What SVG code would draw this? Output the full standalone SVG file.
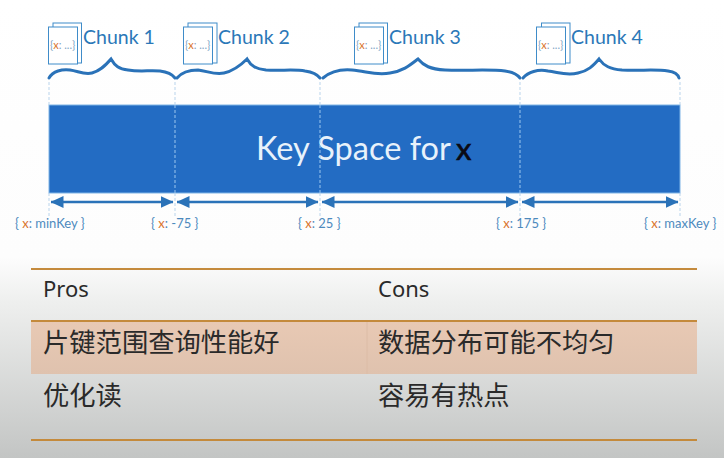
<svg xmlns="http://www.w3.org/2000/svg" width="724" height="458" viewBox="0 0 724 458">
<style>
.doc{fill:#fff;stroke:#3f8cc9;stroke-width:1}
.ch{font:19.500px Lato,"Liberation Sans",sans-serif;fill:#2b78b8}
.q{font:11px Lato,"Liberation Sans",sans-serif;fill:#7fa6c6}
.k{font:13px Lato,"Liberation Sans",sans-serif;fill:#4d8abd}
.o{fill:#d9742c}
.brace{fill:none;stroke:#2a72b8;stroke-width:3;stroke-linecap:round}
.dash{stroke:#b9d4ec;stroke-width:1;stroke-dasharray:3 2;fill:none}
.dashin{stroke:#9cc6ee;stroke-width:1;stroke-dasharray:3 2;fill:none}
.arr{stroke:#2a72b8;stroke-width:2.4;fill:none;marker-start:url(#a);marker-end:url(#a)}
.rule{stroke:#c48a3c;stroke-width:2}
.t{font:22px "Noto Sans","Liberation Sans",sans-serif;fill:#2a2a2a}
.z{font:26.300px "Noto Sans CJK SC","Noto Sans",sans-serif;fill:#2a2a2a}
</style>
<defs>
<linearGradient id="bg" x1="0" y1="0" x2="0" y2="1"><stop offset="0" stop-color="#fff"/><stop offset="0.56" stop-color="#fdfdfd"/><stop offset="0.66" stop-color="#eeefee"/><stop offset="1" stop-color="#c3c5c4"/></linearGradient>
<linearGradient id="band" x1="0" y1="0" x2="0" y2="1"><stop offset="0" stop-color="#e8c9b4"/><stop offset="1" stop-color="#dfc2ae"/></linearGradient>
<marker id="a" viewBox="0 0 13 12" refX="12.500" refY="6" markerWidth="13" markerHeight="12" markerUnits="userSpaceOnUse" orient="auto-start-reverse"><path d="M0 0L13 6L0 12Z" fill="#2a72b8"/></marker>
</defs>
<rect id="background" width="724" height="458" fill="url(#bg)"/>
<g id="keyspace">
<rect x="49" y="105" width="631" height="88" fill="#236cc3" stroke="#7fb4e6" stroke-width="1"/>
<text x="256" y="160" font-family="Lato,'Liberation Sans',sans-serif" font-size="32.500" fill="#e8f2fb">Key Space for</text>
<text x="456" y="160" font-family="Lato,'Liberation Sans',sans-serif" font-size="31" fill="#0a0a14" stroke="#0a0a14" stroke-width="0.6">x</text>
</g>
<g id="connectors">
<path class="dash" d="M49 82V105M175 82V105M320 82V105M520 82V105M680 82V105M49 193V218M175 193V218M320 193V218M520 193V218M680 193V218"/>
<path class="dashin" d="M175 105V193M320 105V193M520 105V193"/>
<path class="arr" d="M51 202H173"/>
<path class="arr" d="M177 202H318"/>
<path class="arr" d="M322 202H518"/>
<path class="arr" d="M522 202H678"/>
<path class="brace" d="M49 78C53 71 62 69 70 70C78 71 84 75 92 73C100 71 105 66 111 59C115 66 119 69 128 70C140 72 150 70 160 71C168 72 172 74 175 78"/>
<path class="brace" d="M177 78C182 72 190 70 198 70C208 71 214 75 224 73C233 71 240 66 247 59C251 66 256 69 266 70C280 71 295 69 305 71C312 72 317 74 320 78"/>
<path class="brace" d="M323 78C330 72 340 69 352 70C366 71 376 76 390 73C403 71 409 66 418 59C424 66 430 69 445 70C465 71 490 69 505 71C513 72 517 74 520 78"/>
<path class="brace" d="M523 78C528 72 538 69 548 71C558 72 566 76 578 73C588 71 593 66 599 59C604 66 610 69 622 70C640 71 655 69 668 71C675 72 678 74 679 78"/>
</g>
<g id="chunk1">
<rect class="doc" x="53" y="23" width="28.500" height="40"/><rect class="doc" x="48.500" y="27" width="29" height="37"/>
<text class="q" x="50" y="49">{<tspan class="o">x</tspan>: ...}</text>
<text class="ch" x="83" y="44">Chunk 1</text>
</g>
<g id="chunk2">
<rect class="doc" x="188" y="23" width="29" height="40"/><rect class="doc" x="183.500" y="27" width="29" height="37"/>
<text class="q" x="185" y="49">{<tspan class="o">x</tspan>: ...}</text>
<text class="ch" x="218" y="44">Chunk 2</text>
</g>
<g id="chunk3">
<rect class="doc" x="359" y="23" width="28.500" height="40"/><rect class="doc" x="354.500" y="27" width="29" height="37"/>
<text class="q" x="356" y="49">{<tspan class="o">x</tspan>: ...}</text>
<text class="ch" x="389" y="44">Chunk 3</text>
</g>
<g id="chunk4">
<rect class="doc" x="541.500" y="23" width="28.500" height="40"/><rect class="doc" x="536.500" y="27" width="29" height="37"/>
<text class="q" x="538" y="49">{<tspan class="o">x</tspan>: ...}</text>
<text class="ch" x="571" y="44">Chunk 4</text>
</g>
<g id="bounds">
<text class="k" x="15" y="228">{ <tspan class="o">x</tspan>: minKey }</text>
<text class="k" x="151" y="228">{ <tspan class="o">x</tspan>: -75 }</text>
<text class="k" x="298" y="228">{ <tspan class="o">x</tspan>: 25 }</text>
<text class="k" x="496" y="228">{ <tspan class="o">x</tspan>: 175 }</text>
<text class="k" x="644" y="228">{ <tspan class="o">x</tspan>: maxKey }</text>
</g>
<g id="table">
<rect x="31" y="322" width="666" height="52" fill="url(#band)"/>
<line x1="367" y1="322" x2="367" y2="374" stroke="#dcbca6" stroke-width="1"/>
<line class="rule" x1="31" y1="269" x2="697" y2="269"/>
<line class="rule" x1="31" y1="321" x2="697" y2="321"/>
<line class="rule" x1="31" y1="440" x2="697" y2="440"/>
<text class="t" x="43" y="297">Pros</text>
<text class="t" x="378" y="297">Cons</text>
<text class="z" x="43" y="352">片键范围查询性能好</text>
<text class="z" x="378" y="352">数据分布可能不均匀</text>
<text class="z" x="43" y="405">优化读</text>
<text class="z" x="378" y="405">容易有热点</text>
</g>
</svg>
